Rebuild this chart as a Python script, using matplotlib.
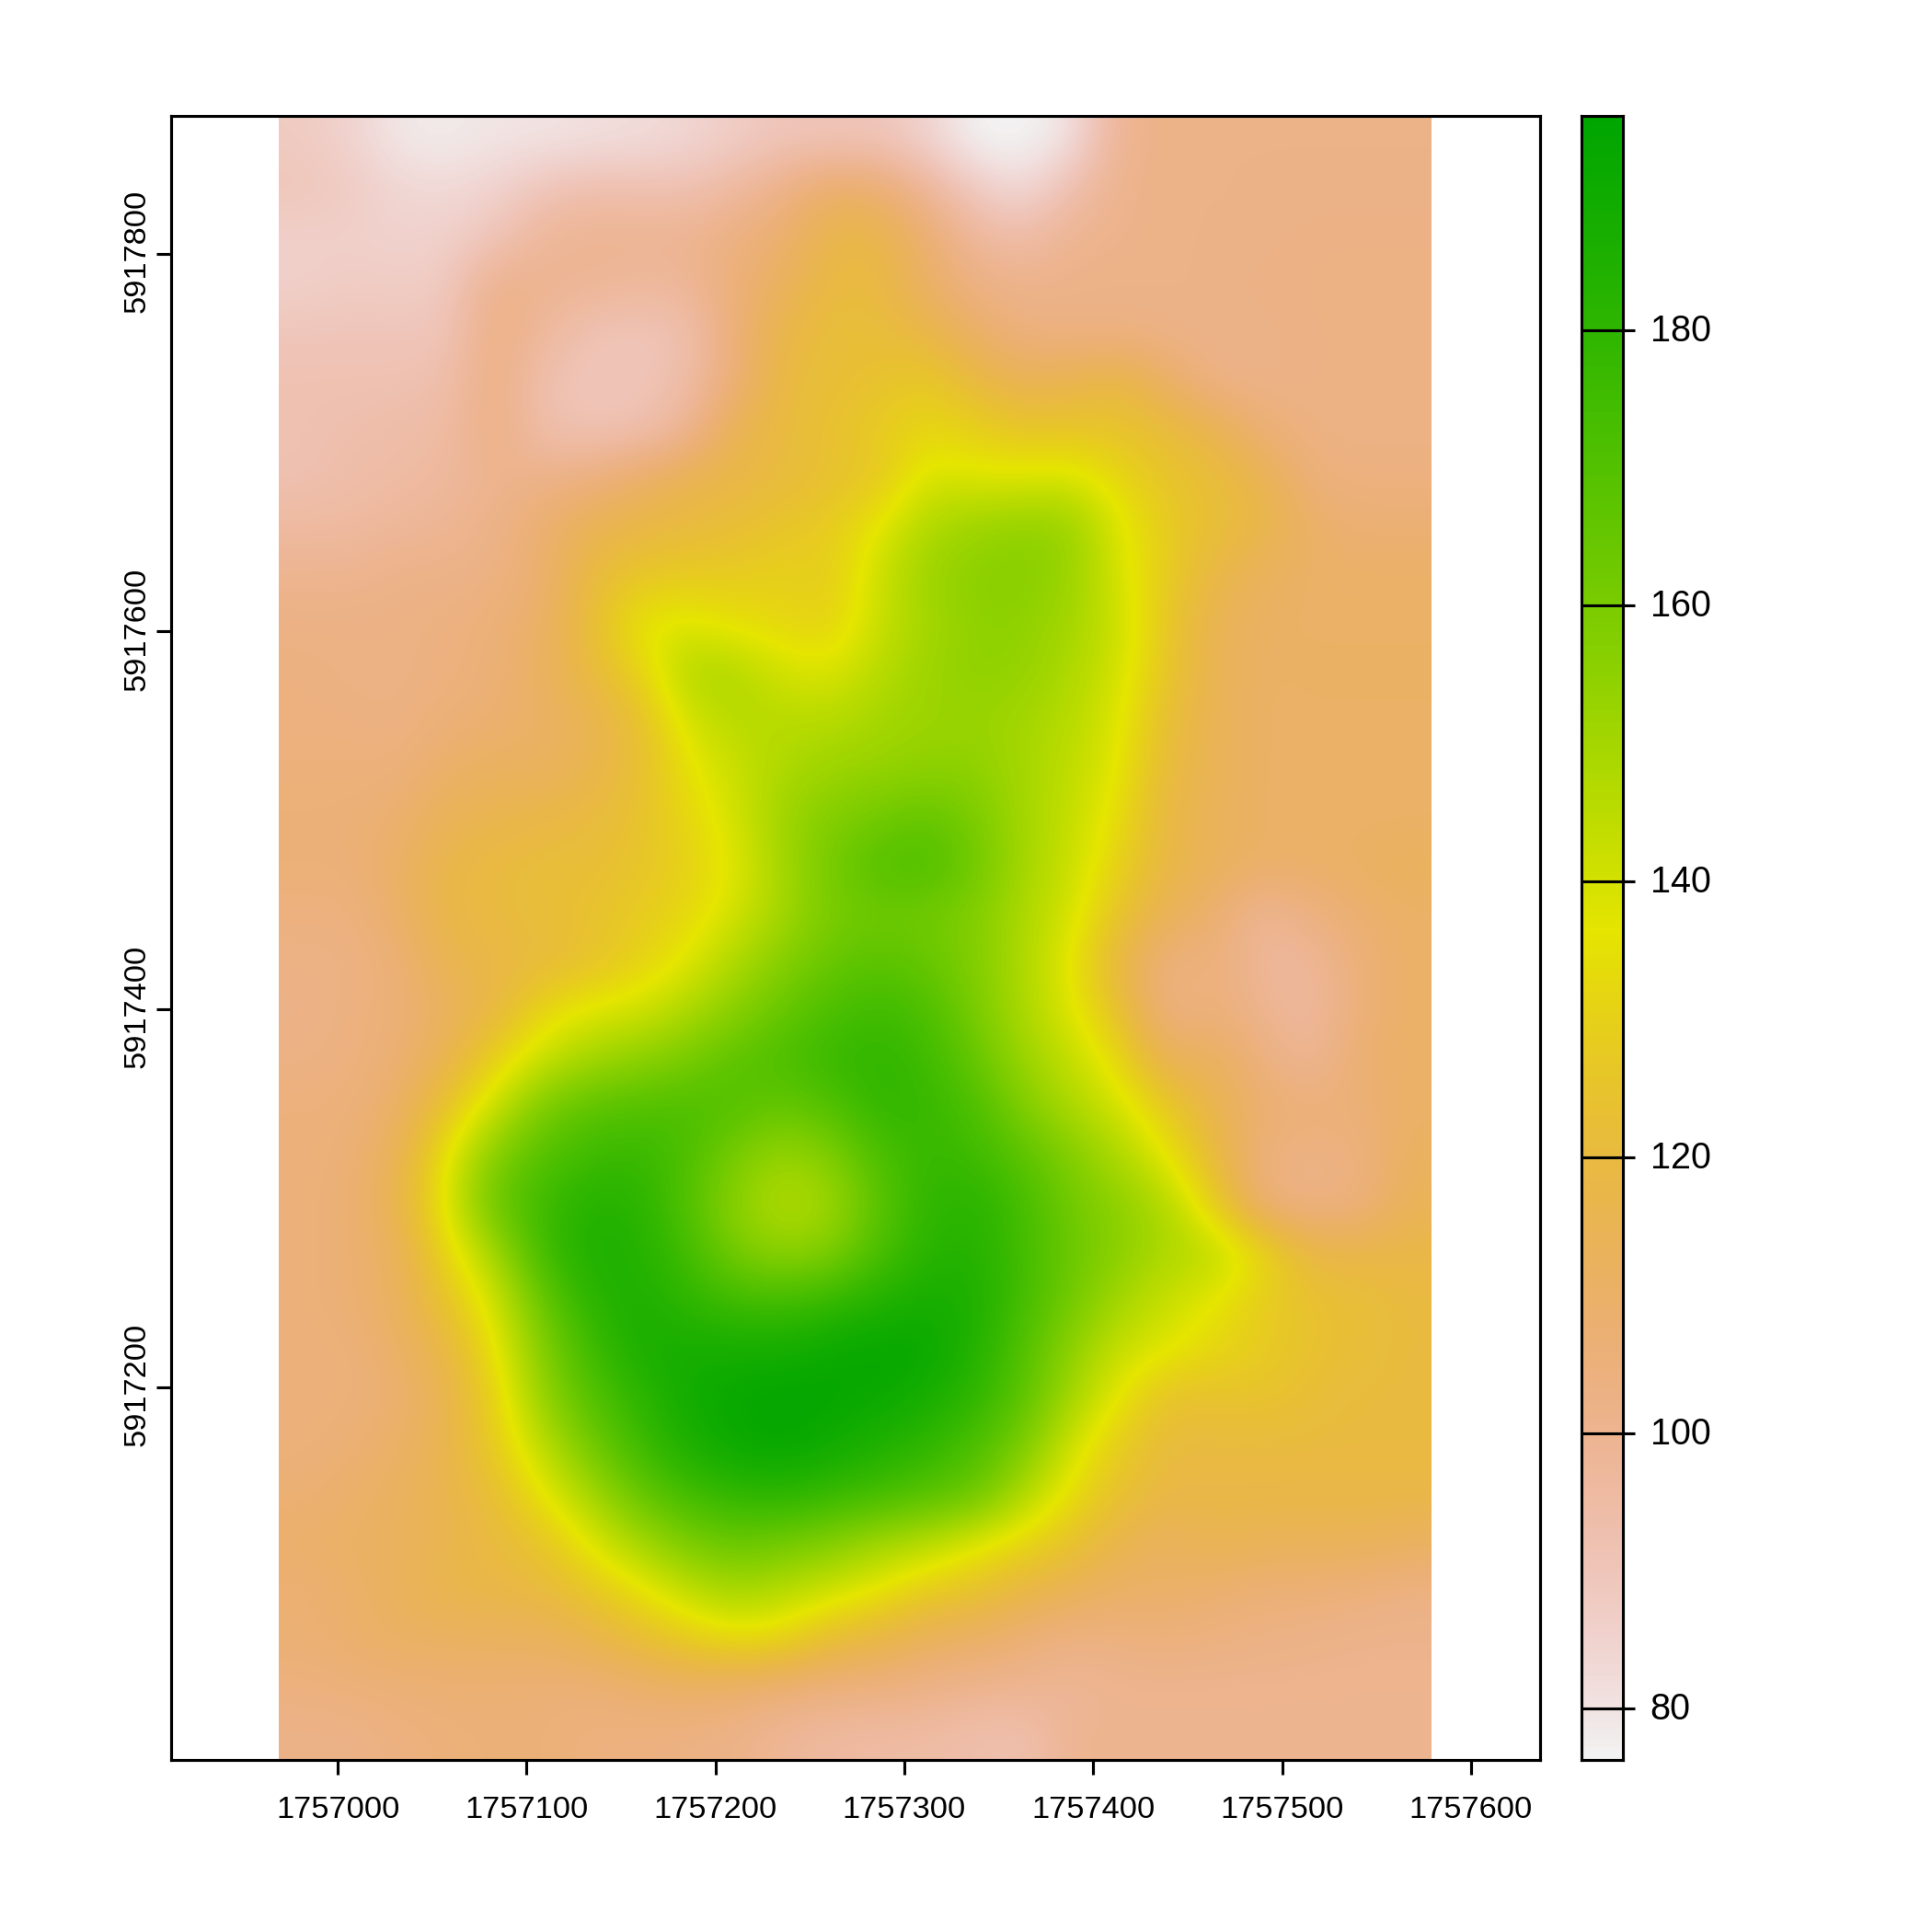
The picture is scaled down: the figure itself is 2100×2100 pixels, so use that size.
# Raster map with terrain colours and a legend bar on the right
import colorsys
import numpy as np
import matplotlib
matplotlib.use("Agg")
import matplotlib.pyplot as plt
from matplotlib.colors import ListedColormap
from matplotlib.transforms import ScaledTranslation

plt.rcParams['font.family'] = ['Liberation Sans', 'DejaVu Sans']

# ---------- Values (top row first) ----------
grid = [
    [88, 85, 79, 78, 80, 80, 81, 82, 84, 87, 90, 90, 90, 85, 76, 76, 80, 100, 102, 102, 102, 102, 102, 102],
    [90, 88, 84, 83, 85, 90, 93, 92, 92, 96, 102, 110, 108, 98, 88, 82, 93, 101, 102, 102, 102, 102, 102, 102],
    [86, 86, 85, 86, 90, 98, 100, 100, 100, 104, 108, 118, 118, 108, 97, 94, 100, 101, 102, 102, 102, 103, 103, 103],
    [86, 88, 87, 88, 102, 100, 99, 97, 98, 106, 112, 120, 120, 110, 103, 101, 102, 102, 102, 102, 103, 103, 103, 103],
    [90, 90, 90, 90, 104, 97, 91, 90, 92, 106, 118, 122, 122, 118, 110, 104, 103, 103, 102, 102, 102, 103, 103, 103],
    [92, 92, 92, 93, 104, 92, 90, 90, 94, 106, 120, 122, 124, 128, 120, 114, 116, 120, 110, 102, 102, 103, 103, 103],
    [92, 93, 94, 95, 104, 93, 91, 92, 98, 116, 120, 124, 128, 132, 130, 126, 126, 125, 122, 116, 106, 103, 103, 103],
    [92, 94, 95, 97, 100, 102, 104, 110, 116, 118, 120, 124, 126, 140, 138, 138, 140, 132, 125, 122, 116, 105, 104, 104],
    [96, 96, 98, 99, 102, 108, 115, 118, 120, 122, 126, 128, 137, 148, 152, 155, 153, 138, 128, 122, 118, 110, 107, 107],
    [100, 100, 102, 102, 103, 108, 120, 126, 128, 128, 130, 128, 142, 152, 156, 157, 153, 139, 128, 118, 112, 110, 110, 110],
    [103, 103, 103, 104, 106, 110, 122, 137, 138, 134, 132, 130, 142, 150, 155, 155, 150, 142, 126, 114, 111, 110, 110, 110],
    [104, 103, 103, 104, 106, 112, 120, 130, 148, 148, 140, 138, 146, 152, 155, 154, 148, 140, 126, 114, 110, 111, 111, 111],
    [104, 104, 103, 106, 108, 110, 115, 122, 140, 146, 146, 146, 150, 152, 153, 150, 146, 138, 122, 114, 110, 110, 110, 110],
    [105, 105, 105, 110, 112, 112, 116, 122, 135, 142, 148, 152, 153, 155, 155, 150, 144, 137, 120, 114, 110, 110, 110, 110],
    [106, 106, 108, 114, 116, 118, 120, 124, 132, 140, 152, 158, 162, 166, 160, 150, 143, 134, 118, 113, 110, 110, 110, 110],
    [106, 106, 110, 118, 120, 122, 122, 125, 130, 137, 150, 162, 170, 172, 163, 150, 142, 130, 118, 113, 110, 110, 111, 113],
    [104, 104, 110, 118, 120, 122, 124, 128, 132, 140, 150, 160, 163, 162, 158, 148, 140, 125, 114, 108, 98, 104, 108, 110],
    [103, 103, 106, 116, 118, 120, 124, 130, 137, 148, 157, 165, 168, 165, 158, 148, 136, 118, 103, 106, 97, 97, 106, 110],
    [102, 104, 106, 112, 118, 132, 138, 140, 148, 156, 165, 172, 176, 172, 160, 148, 138, 124, 102, 106, 100, 96, 106, 110],
    [103, 104, 107, 115, 130, 142, 150, 155, 160, 168, 172, 178, 180, 176, 165, 152, 143, 133, 112, 113, 104, 98, 108, 110],
    [105, 105, 110, 125, 142, 160, 168, 170, 172, 170, 165, 170, 180, 178, 172, 158, 148, 140, 128, 115, 108, 106, 106, 110],
    [105, 106, 114, 136, 158, 170, 176, 178, 172, 160, 152, 158, 172, 178, 176, 168, 158, 148, 136, 120, 104, 103, 104, 112],
    [105, 107, 116, 138, 165, 176, 184, 182, 170, 155, 146, 150, 168, 180, 182, 174, 162, 155, 148, 128, 104, 102, 104, 114],
    [105, 107, 112, 132, 150, 176, 186, 184, 175, 160, 154, 158, 172, 182, 184, 174, 164, 156, 148, 146, 134, 118, 118, 118],
    [105, 107, 112, 125, 140, 165, 182, 186, 180, 175, 174, 178, 184, 188, 186, 174, 162, 150, 142, 136, 128, 124, 122, 120],
    [105, 105, 110, 118, 135, 158, 176, 187, 188, 188, 188, 192, 194, 193, 184, 170, 155, 142, 138, 132, 128, 124, 122, 120],
    [105, 105, 108, 115, 130, 154, 170, 180, 190, 193, 195, 194, 192, 188, 180, 168, 150, 136, 124, 124, 125, 122, 120, 120],
    [105, 107, 110, 116, 128, 145, 162, 176, 186, 192, 194, 190, 185, 180, 172, 160, 140, 128, 120, 120, 120, 120, 120, 120],
    [107, 109, 112, 116, 122, 136, 150, 165, 175, 180, 182, 178, 175, 170, 165, 148, 134, 124, 118, 118, 118, 118, 118, 118],
    [109, 111, 112, 116, 120, 125, 138, 150, 160, 165, 162, 158, 150, 146, 138, 132, 125, 116, 112, 116, 114, 114, 114, 112],
    [107, 109, 113, 117, 118, 120, 126, 134, 144, 150, 146, 141, 136, 128, 125, 118, 114, 110, 110, 108, 106, 106, 105, 103],
    [107, 109, 111, 111, 112, 112, 116, 122, 128, 134, 132, 122, 118, 112, 110, 106, 103, 104, 105, 104, 103, 102, 101, 101],
    [104, 105, 106, 107, 107, 106, 106, 108, 110, 108, 106, 104, 104, 102, 100, 100, 98, 100, 100, 100, 100, 100, 100, 100],
    [102, 102, 104, 105, 106, 106, 104, 104, 103, 102, 98, 96, 95, 95, 93, 92, 100, 100, 100, 100, 100, 100, 100, 100],
]
x_ticks = [1757000, 1757100, 1757200, 1757300, 1757400, 1757500, 1757600]
y_ticks = [5917200, 5917400, 5917600, 5917800]
bar_ticks = [80, 100, 120, 140, 160, 180]

# limits
x_lim = (1756911.8, 1757636.6)
y_lim = (5917002.6, 5917873.0)
raster_x = (1756968.7, 1757579.0)
vmin, vmax = 76.28, 195.53


# R terrain.colors(255), reversed so low = grey and high = green
def terrain_colors(n):
    k = n // 2
    cols = []
    for h, s, v in zip(np.linspace(4/12, 2/12, k), np.linspace(1, 1, k), np.linspace(0.65, 0.9, k)):
        cols.append(colorsys.hsv_to_rgb(h, s, v))
    m = n - k + 1
    for h, s, v in zip(np.linspace(2/12, 0, m)[1:], np.linspace(1, 0, m)[1:], np.linspace(0.9, 0.95, m)[1:]):
        cols.append(colorsys.hsv_to_rgb(h, s, v))
    return cols[::-1]


cmap = ListedColormap(terrain_colors(255))

fig = plt.figure(figsize=(7, 7), dpi=300)

# ---------- Map ----------
ax = fig.add_axes([186/2100, 1 - 1913/2100, (1674-186)/2100, (1913-126)/2100])
ax.imshow(np.array(grid, dtype=float), cmap=cmap, vmin=vmin, vmax=vmax, aspect='auto',
          extent=(raster_x[0], raster_x[1], y_lim[0], y_lim[1]),
          interpolation='bicubic', interpolation_stage='data', origin='upper')
ax.set_xlim(x_lim)
ax.set_ylim(y_lim)
ax.set_xticks(x_ticks, [str(t) for t in x_ticks])
ax.set_yticks(y_ticks, [str(t) for t in y_ticks])
ax.tick_params(axis='x', length=3.8, width=0.75, labelsize=8.25, pad=5.6)
ax.tick_params(axis='y', length=3.8, width=0.75, labelsize=8.25, pad=1.3)
up = ScaledTranslation(0, 3/300, fig.dpi_scale_trans)
for lab in ax.get_yticklabels():
    lab.set_rotation(90)
    lab.set_va('center')
    lab.set_transform(lab.get_transform() + up)
for sp in ax.spines.values():
    sp.set_linewidth(0.75)

# ---------- Legend bar ----------
cax = fig.add_axes([1719/2100, 1 - 1913/2100, (1764-1719)/2100, (1913-126)/2100])
cax.imshow(np.linspace(vmax, vmin, 255).reshape(-1, 1), cmap=cmap, vmin=vmin, vmax=vmax,
           aspect='auto', extent=(0, 1, vmin, vmax), interpolation='nearest')
cax.set_xlim(0, 1)
cax.set_ylim(vmin, vmax)
cax.set_xticks([])
cax.yaxis.tick_right()
cax.set_yticks(bar_ticks, [str(t) for t in bar_ticks])
cax.tick_params(axis='y', length=3.1, width=0.75, labelsize=9.5, pad=4)
for lab in cax.get_yticklabels():
    lab.set_transform(lab.get_transform() + up)
cax.hlines(bar_ticks, 0, 1, color='black', linewidth=0.75)
for sp in cax.spines.values():
    sp.set_linewidth(0.75)

fig.savefig("out.png", dpi=300)
